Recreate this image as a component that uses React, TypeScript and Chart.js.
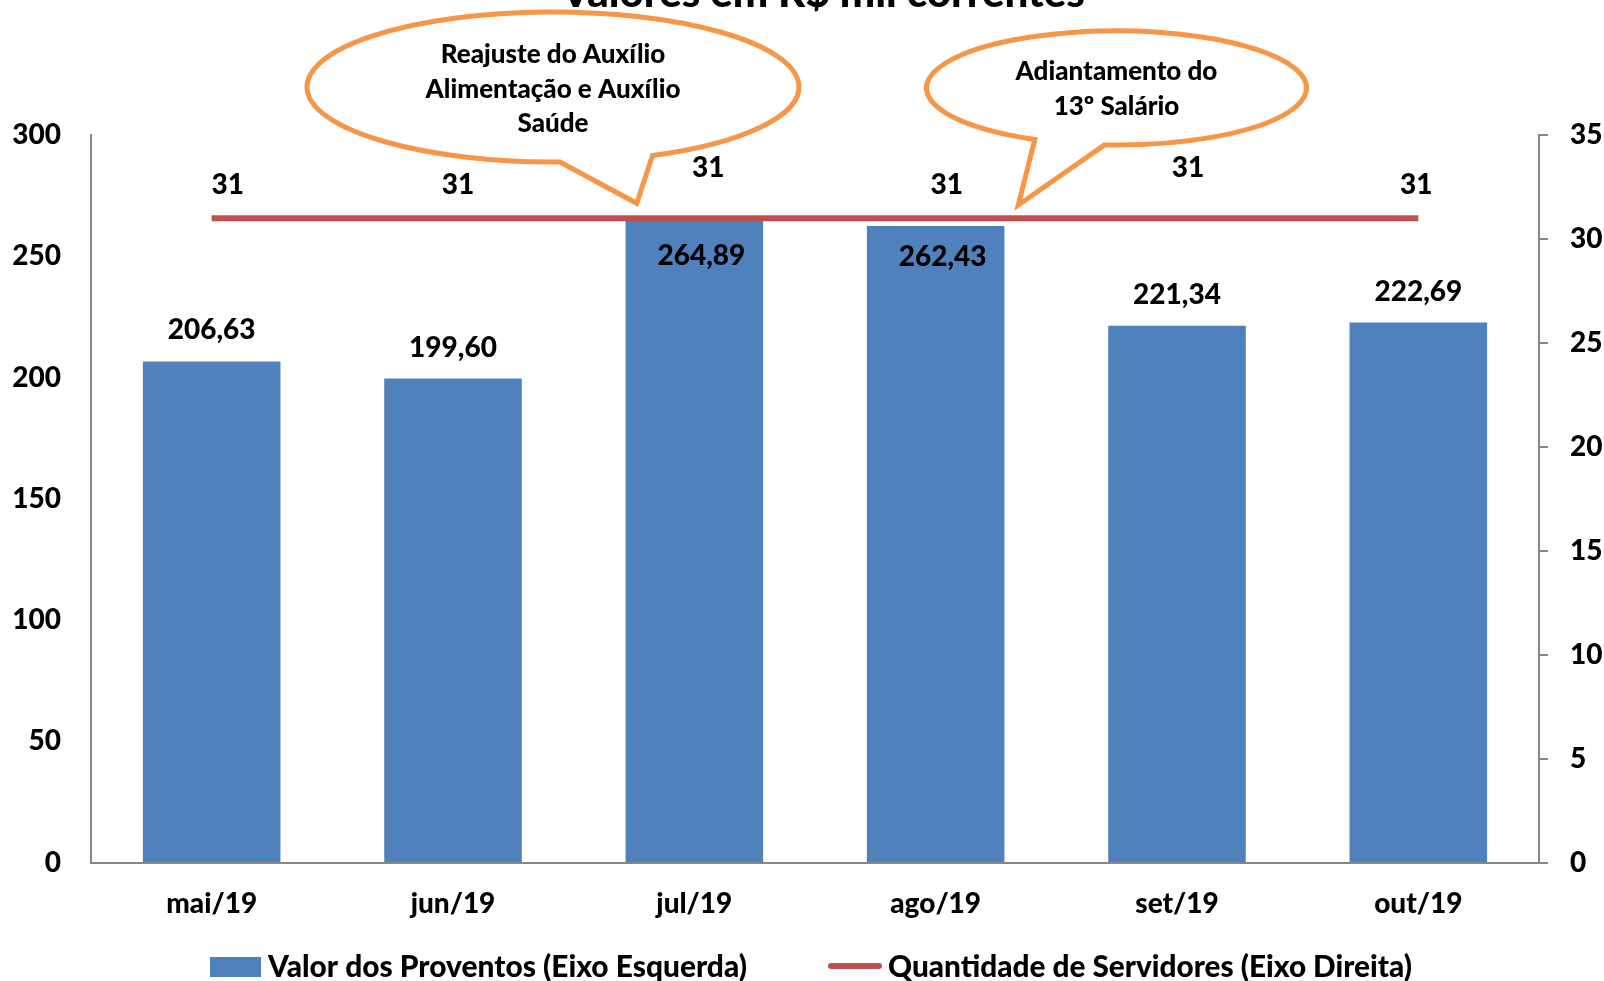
import React, { useEffect, useRef } from "react";
import { Chart, registerables } from "chart.js";

Chart.register(...registerables);

const categories = ["mai/19", "jun/19", "jul/19", "ago/19", "set/19", "out/19"];
const proventos = [206.63, 199.6, 264.89, 262.43, 221.34, 222.69];
const servidores = [31, 31, 31, 31, 31, 31];
const leftTicks = [0, 50, 100, 150, 200, 250, 300];
const rightTicks = [0, 5, 10, 15, 20, 25, 30, 35];
const chartTitle = "Valores em R$ mil correntes";
const seriesLabels = [
  "Valor dos Proventos (Eixo Esquerda)",
  "Quantidade de Servidores (Eixo Direita)",
];
const callout1Lines = ["Reajuste do Auxílio", "Alimentação e Auxílio", "Saúde"];
const callout2Lines = ["Adiantamento do", "13º Salário"];

// style / placement (not data)
const FONT = "Lato, 'Open Sans', sans-serif";
const W = "900";
const BAR_COLOR = "#4F81BD";
const LINE_COLOR = "#C0504D";
const ORANGE = "#F79646";
const AXIS_COLOR = "#868686";
const barLabelOffsets = [[0, -31], [0, -31], [7, 36], [7, 31], [0, -31], [0, -31]];
const lineLabelOffsets = [[16, -33], [5, -33], [14, -50], [11, -33], [11, -50], [-2, -33]];

const fmt = (v: number) => v.toFixed(2).replace(".", ",");

const labelsPlugin = {
  id: "valueLabels",
  afterDatasetsDraw(chart: any) {
    const ctx = chart.ctx;
    ctx.save();
    ctx.fillStyle = "#000";
    ctx.font = `${W} 28px ${FONT}`;
    ctx.textAlign = "center";
    ctx.textBaseline = "middle";
    const barMeta = chart.getDatasetMeta(0);
    barMeta.data.forEach((el: any, i: number) => {
      const [dx, dy] = barLabelOffsets[i];
      ctx.fillText(fmt(proventos[i]), el.x + dx, el.y + dy);
    });
    const lineMeta = chart.getDatasetMeta(1);
    lineMeta.data.forEach((el: any, i: number) => {
      const [dx, dy] = lineLabelOffsets[i];
      ctx.fillText(String(servidores[i]), el.x + dx, el.y + dy);
    });
    ctx.restore();
  },
};

function drawCallout(
  ctx: CanvasRenderingContext2D,
  cx: number, cy: number, rx: number, ry: number,
  start: number[], tip: number[], end: number[],
  lines: string[], textY: number[]
) {
  const ang = (p: number[]) => Math.atan2((p[1] - cy) / ry, (p[0] - cx) / rx);
  const a1 = ang(start);
  const a2 = ang(end);
  const hi = Math.max(a1, a2);
  const lo = Math.min(a1, a2);
  ctx.save();
  ctx.beginPath();
  ctx.ellipse(cx, cy, rx, ry, 0, hi, lo, false);
  ctx.lineTo(tip[0], tip[1]);
  ctx.closePath();
  ctx.fillStyle = "#fff";
  ctx.fill();
  ctx.strokeStyle = ORANGE;
  ctx.lineWidth = 5;
  ctx.lineJoin = "miter";
  ctx.stroke();
  ctx.fillStyle = "#000";
  ctx.font = `${W} 26px ${FONT}`;
  ctx.textAlign = "center";
  ctx.textBaseline = "middle";
  lines.forEach((t, i) => ctx.fillText(t, cx, textY[i]));
  ctx.restore();
}

function drawCondensed(ctx: CanvasRenderingContext2D, text: string, x: number, y: number, target: number) {
  const w = ctx.measureText(text).width;
  const sx = target / w;
  ctx.save();
  ctx.translate(x, y);
  ctx.scale(sx, 1);
  ctx.textAlign = "left";
  ctx.fillText(text, 0, 0);
  ctx.restore();
}

const decorPlugin = {
  id: "decor",
  afterDraw(chart: any) {
    const ctx: CanvasRenderingContext2D = chart.ctx;
    ctx.save();
    ctx.fillStyle = "#000";
    ctx.font = `${W} 42px ${FONT}`;
    ctx.textAlign = "center";
    ctx.textBaseline = "alphabetic";
    ctx.fillText(chartTitle, 823, 7);
    ctx.restore();

    drawCallout(ctx, 553, 87, 246, 75, [560, 162.7], [636.7, 203.3], [651.7, 155], callout1Lines, [55, 90, 124]);
    drawCallout(ctx, 1116.5, 88, 190, 57, [1036.7, 138.3], [1018.3, 205], [1105, 143.3], callout2Lines, [72, 107]);

    ctx.save();
    ctx.fillStyle = BAR_COLOR;
    ctx.fillRect(210, 957, 51, 20);
    ctx.strokeStyle = LINE_COLOR;
    ctx.lineWidth = 6;
    ctx.lineCap = "round";
    ctx.beginPath();
    ctx.moveTo(831, 966);
    ctx.lineTo(879, 966);
    ctx.stroke();
    ctx.fillStyle = "#000";
    ctx.font = `${W} 31px ${FONT}`;
    ctx.textBaseline = "alphabetic";
    drawCondensed(ctx, seriesLabels[0], 268, 977, 479);
    drawCondensed(ctx, seriesLabels[1], 888, 977, 524);
    ctx.restore();
  },
};

export default function App() {
  const ref = useRef<HTMLCanvasElement | null>(null);
  useEffect(() => {
    if (!ref.current) return;
    Chart.defaults.font.family = FONT;
    const tickFont = { size: 28, weight: W, family: FONT };
    const chart = new Chart(ref.current, {
      type: "bar",
      data: {
        labels: categories,
        datasets: [
          {
            type: "bar",
            label: seriesLabels[0],
            data: proventos,
            backgroundColor: BAR_COLOR,
            borderWidth: 0,
            categoryPercentage: 1,
            barPercentage: 0.57,
            yAxisID: "y",
            order: 1,
          },
          {
            type: "line",
            label: seriesLabels[1],
            data: servidores,
            borderColor: LINE_COLOR,
            backgroundColor: LINE_COLOR,
            borderWidth: 6,
            pointRadius: 0,
            fill: false,
            yAxisID: "y1",
            order: 0,
          } as any,
        ],
      },
      options: {
        responsive: false,
        animation: false,
        layout: { padding: { left: 0, right: 0, top: 135, bottom: 0 } },
        plugins: {
          legend: { display: false },
          title: { display: false },
          tooltip: { enabled: false },
        },
        scales: {
          x: {
            grid: { display: false, drawTicks: false },
            border: { display: true, color: AXIS_COLOR, width: 2 },
            ticks: { color: "#000", padding: 25, font: tickFont, maxRotation: 0 },
            afterFit: (s: any) => { s.height = 118.5; },
          },
          y: {
            position: "left",
            min: 0,
            max: 300,
            grid: { display: true, drawOnChartArea: false, drawTicks: false },
            border: { display: true, color: AXIS_COLOR, width: 2 },
            ticks: { color: "#000", padding: 30, font: tickFont },
            afterBuildTicks: (s: any) => { s.ticks = leftTicks.map((v) => ({ value: v })); },
            afterFit: (s: any) => { s.width = 91; },
          },
          y1: {
            position: "right",
            min: 0,
            max: 35,
            grid: { display: true, drawOnChartArea: false, drawTicks: true, tickLength: 9, color: AXIS_COLOR, lineWidth: 2 },
            border: { display: true, color: AXIS_COLOR, width: 2 },
            ticks: { color: "#000", padding: 22, font: tickFont },
            afterBuildTicks: (s: any) => { s.ticks = rightTicks.map((v) => ({ value: v })); },
            afterFit: (s: any) => { s.width = 65; },
          },
        },
      } as any,
      plugins: [labelsPlugin, decorPlugin],
    });
    return () => chart.destroy();
  }, []);
  return (
    <div style={{ position: "absolute", left: 0, top: 0, width: 1604, height: 981, overflow: "hidden", background: "#fff" }}>
      <canvas ref={ref} width={1604} height={981} style={{ display: "block" }} />
    </div>
  );
}
